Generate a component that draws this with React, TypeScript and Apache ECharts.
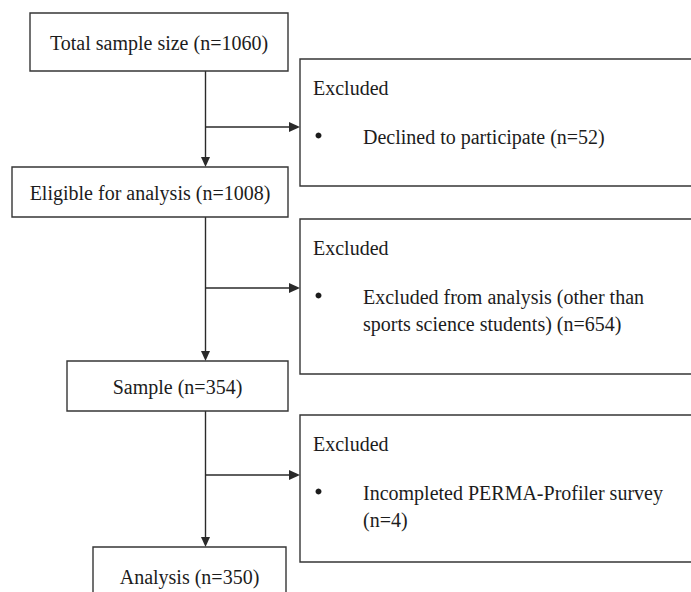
import React, { useEffect, useRef } from "react";
import * as echarts from "echarts";

// ---- content ----
const stepLabels = [
  "Total sample size (n=1060)",
  "Eligible for analysis (n=1008)",
  "Sample (n=354)",
  "Analysis (n=350)",
];
const excludedHeading = "Excluded";
const excludedReasons = [
  ["Declined to participate (n=52)"],
  ["Excluded from analysis (other than", "sports science students) (n=654)"],
  ["Incompleted PERMA-Profiler survey", "(n=4)"],
];

// ---- layout ----
const stepBoxes = [
  { x: 30, y: 13, w: 258, h: 58 },
  { x: 12, y: 167, w: 276, h: 50 },
  { x: 67, y: 361, w: 221, h: 50 },
  { x: 93, y: 547, w: 193, h: 64 },
];
const excludedBoxes = [
  { x: 300, y: 59, h: 127 },
  { x: 300, y: 219, h: 155 },
  { x: 300, y: 415, h: 147 },
];
const branchY = [127, 288, 475];
const stemX = 205.5;

const FONT_FAMILY = '"Liberation Serif", "Times New Roman", serif';
const FONT_SIZE = 20;
const TEXT_COLOR = "#1c1c1c";
const LINE_COLOR = "#2a2a2a";
const BOX_STROKE = "#363636";

function buildGraphics() {
  const els: any[] = [];
  // connectors
  for (let i = 0; i < 3; i++) {
    const top = stepBoxes[i].y + stepBoxes[i].h;
    const bottom = stepBoxes[i + 1].y;
    els.push({
      type: "line",
      shape: { x1: stemX, y1: top, x2: stemX, y2: bottom - 9 },
      style: { stroke: LINE_COLOR, lineWidth: 1.4 },
    });
    els.push({
      type: "polygon",
      shape: { points: [[stemX - 4.5, bottom - 10], [stemX + 4.5, bottom - 10], [stemX, bottom]] },
      style: { fill: LINE_COLOR },
    });
    const by = branchY[i];
    const tipX = excludedBoxes[i].x;
    els.push({
      type: "line",
      shape: { x1: stemX, y1: by, x2: tipX - 10, y2: by },
      style: { stroke: LINE_COLOR, lineWidth: 1.4 },
    });
    els.push({
      type: "polygon",
      shape: { points: [[tipX - 11, by - 5], [tipX - 11, by + 5], [tipX, by]] },
      style: { fill: LINE_COLOR },
    });
  }
  // step boxes
  stepBoxes.forEach((b, i) => {
    els.push({
      type: "rect",
      shape: { x: b.x, y: b.y, width: b.w, height: b.h },
      style: { fill: "#ffffff", stroke: BOX_STROKE, lineWidth: 1.4 },
    });
    els.push({
      type: "text",
      x: b.x + b.w / 2,
      y: i === 3 ? 577 : b.y + b.h / 2 + 1,
      style: {
        text: stepLabels[i],
        fontFamily: FONT_FAMILY,
        fontSize: FONT_SIZE,
        fill: TEXT_COLOR,
        align: "center",
        verticalAlign: "middle",
      },
    });
  });
  // excluded boxes
  excludedBoxes.forEach((b, i) => {
    els.push({
      type: "rect",
      shape: { x: b.x, y: b.y, width: 420, height: b.h },
      style: { fill: "#ffffff", stroke: BOX_STROKE, lineWidth: 1.4 },
    });
    els.push({
      type: "text",
      x: b.x + 13,
      y: b.y + 28.5,
      style: {
        text: excludedHeading,
        fontFamily: FONT_FAMILY,
        fontSize: FONT_SIZE,
        fill: TEXT_COLOR,
        align: "left",
        verticalAlign: "middle",
      },
    });
    els.push({
      type: "circle",
      shape: { cx: b.x + 18.5, cy: b.y + 76.5, r: 3 },
      style: { fill: TEXT_COLOR },
    });
    excludedReasons[i].forEach((line, j) => {
      els.push({
        type: "text",
        x: b.x + 63,
        y: b.y + 77.5 + j * 27.5,
        style: {
          text: line,
          fontFamily: FONT_FAMILY,
          fontSize: FONT_SIZE,
          fill: TEXT_COLOR,
          align: "left",
          verticalAlign: "middle",
        },
      });
    });
  });
  return els;
}

export default function App() {
  const ref = useRef<HTMLDivElement>(null);
  useEffect(() => {
    document.body.style.margin = "0";
    if (!ref.current) return;
    const chart = echarts.init(ref.current, null, { renderer: "svg" });
    chart.setOption({
      animation: false,
      backgroundColor: "#ffffff",
      graphic: { elements: buildGraphics() },
    });
    return () => chart.dispose();
  }, []);
  return <div ref={ref} style={{ width: 691, height: 592 }} />;
}
